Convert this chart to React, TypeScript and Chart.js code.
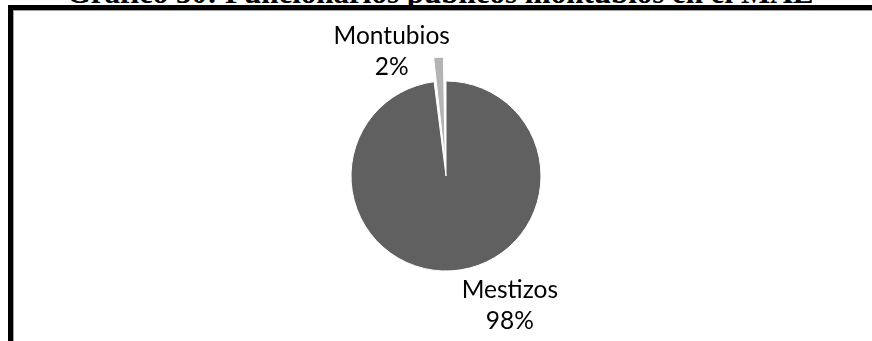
import React, { useEffect, useRef } from "react";
import { Chart, registerables } from "chart.js";

Chart.register(...registerables);

const titleText = "Gráfico 30: Funcionarios públicos montubios en el MAE";
const categories = ["Mestizos", "Montubios"];
const values = [98, 2];
const percentLabels = ["98%", "2%"];
const sliceColors = ["#606060", "#b4b4b4"];
const sliceOffsets = [0, 51];
// label placement: angle (deg, clockwise from top) and distance as ratio of radius
const labelAngles = [152.3, 337.7];
const labelDistances = [1.446, 1.505];

const outLabels = {
  id: "outLabels",
  afterDatasetsDraw(chart: any) {
    const meta = chart.getDatasetMeta(0);
    const ctx = chart.ctx;
    meta.data.forEach((arc: any, i: number) => {
      const { x, y, outerRadius } = arc.getProps(["x", "y", "outerRadius"], true);
      const a = ((labelAngles[i] - 90) * Math.PI) / 180;
      const d = outerRadius * labelDistances[i];
      const lx = x + Math.cos(a) * d;
      const ly = y + Math.sin(a) * d;
      ctx.save();
      ctx.font = "24.5px Lato";
      ctx.fillStyle = "#000";
      ctx.textAlign = "center";
      ctx.textBaseline = "alphabetic";
      ctx.fillText(categories[i], lx, ly);
      ctx.fillText(percentLabels[i], lx, ly + 31.5);
      ctx.restore();
    });
  },
};

export default function App() {
  const ref = useRef<HTMLCanvasElement | null>(null);
  useEffect(() => {
    if (!ref.current) return;
    const chart = new Chart(ref.current, {
      type: "pie",
      data: {
        labels: categories,
        datasets: [
          {
            data: values,
            backgroundColor: sliceColors,
            borderColor: "#ffffff",
            borderWidth: 1,
            offset: sliceOffsets,
          },
        ],
      },
      options: {
        animation: false,
        responsive: false,
        events: [],
        radius: 95,
        layout: { padding: { left: 20, right: 0, top: 11, bottom: 0 } },
        plugins: {
          legend: { display: false },
          tooltip: { enabled: false },
          title: { display: false },
        },
      } as any,
      plugins: [outLabels],
    });
    return () => chart.destroy();
  }, []);

  return (
    <div
      style={{
        position: "fixed",
        left: 0,
        top: 0,
        width: 872,
        height: 341,
        overflow: "hidden",
        background: "#fff",
      }}
    >
      <div
        style={{
          position: "absolute",
          left: 4,
          top: -23,
          width: 872,
          textAlign: "center",
          fontFamily: "'Liberation Serif', 'Times New Roman', serif",
          fontWeight: "bold",
          fontSize: 31,
          lineHeight: "31px",
          whiteSpace: "nowrap",
          color: "#000",
        }}
      >
        {titleText}
      </div>
      <div
        style={{
          position: "absolute",
          left: 8,
          top: 5,
          width: 900,
          height: 400,
          border: "5px solid #000",
          boxShadow: "inset 1px 1px 0 #a0a0a0",
          boxSizing: "border-box",
          background: "#fff",
        }}
      />
      <canvas
        ref={ref}
        width={872}
        height={341}
        style={{ position: "absolute", left: 0, top: 0, width: 872, height: 341 }}
      />
    </div>
  );
}
